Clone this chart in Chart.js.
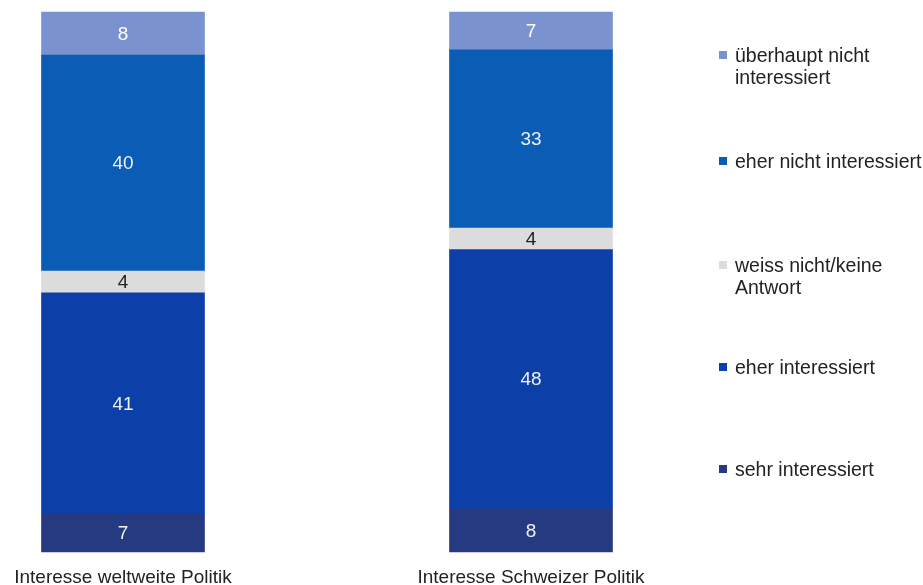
<!DOCTYPE html>
<html>
<head>
<meta charset="utf-8">
<script src="https://cdn.jsdelivr.net/npm/chart.js@4.4.0/dist/chart.umd.min.js"></script>
<style>
  html, body { margin: 0; padding: 0; background: #fff; }
  #wrap { position: relative; width: 923px; height: 585px; }
  #legend { position: absolute; left: 735px; top: 0; width: 188px;
    font-family: "Liberation Sans", Arial, sans-serif; font-size: 19.5px; line-height: 22px; color: #222; }
  .item { position: absolute; left: 0; width: 188px; }
  .item i { position: absolute; left: -16px; top: 7px; width: 8px; height: 8px; }
</style>
</head>
<body>
<div id="wrap">
  <canvas id="chart"></canvas>
  <div id="legend"></div>
</div>
<script>
// categories (bars)
const categories = ["Interesse weltweite Politik", "Interesse Schweizer Politik"];

// series, bottom of stack first
const seriesNames = [
  "sehr interessiert",
  "eher interessiert",
  "weiss nicht/keine Antwort",
  "eher nicht interessiert",
  "überhaupt nicht interessiert"
];
const sehrInteressiert = [7, 8];
const eherInteressiert = [41, 48];
const weissNicht = [4, 4];
const eherNichtInteressiert = [40, 33];
const ueberhauptNicht = [8, 7];

const seriesColors = ["#263a82", "#0d3fa8", "#dcdcdc", "#0b5cb5", "#7a93d0"];
const labelColors = ["#eef0f8", "#eef0f8", "#222222", "#eef0f8", "#ffffff"];

const seriesValues = [sehrInteressiert, eherInteressiert, weissNicht, eherNichtInteressiert, ueberhauptNicht];

// legend: top item first, y of each item's top
const legendTops = [44, 150, 254, 356, 458];

const FONT = "'Liberation Sans', Arial, sans-serif";

const datasets = seriesNames.map((name, i) => ({
  label: name,
  data: seriesValues[i],
  backgroundColor: seriesColors[i],
  borderWidth: 0,
  barThickness: 163,
  clip: false
}));

// values in the middle of each segment + category names under the bars
const barText = {
  id: "barText",
  afterDatasetsDraw(chart) {
    const ctx = chart.ctx;
    ctx.save();
    ctx.textAlign = "center";
    ctx.textBaseline = "middle";
    ctx.font = "19px " + FONT;
    chart.data.datasets.forEach((ds, i) => {
      const meta = chart.getDatasetMeta(i);
      meta.data.forEach((bar, j) => {
        ctx.fillStyle = labelColors[i];
        ctx.fillText(String(ds.data[j]), bar.x, (bar.y + bar.base) / 2 + 1);
      });
    });
    const xs = chart.scales.x;
    ctx.fillStyle = "#222";
    categories.forEach((c, j) => {
      ctx.fillText(c, xs.getPixelForValue(j), chart.chartArea.bottom + 26);
    });
    ctx.restore();
  }
};

new Chart(document.getElementById("chart"), {
  type: "bar",
  data: { labels: categories, datasets: datasets },
  options: {
    responsive: true,
    maintainAspectRatio: false,
    animation: false,
    layout: { padding: { left: 123, right: 392, top: 12, bottom: 33 } },
    plugins: { legend: { display: false }, tooltip: { enabled: false } },
    scales: {
      x: {
        stacked: true,
        offset: false,
        display: false
      },
      y: {
        stacked: true,
        display: false,
        min: 0,
        max: 100
      }
    }
  },
  plugins: [barText]
});

// html legend, top of stack first
const legend = document.getElementById("legend");
for (let k = 0; k < seriesNames.length; k++) {
  const i = seriesNames.length - 1 - k;
  const div = document.createElement("div");
  div.className = "item";
  div.style.top = legendTops[k] + "px";
  const sw = document.createElement("i");
  sw.style.background = seriesColors[i];
  div.appendChild(sw);
  div.appendChild(document.createTextNode(seriesNames[i]));
  legend.appendChild(div);
}
</script>
</body>
</html>
